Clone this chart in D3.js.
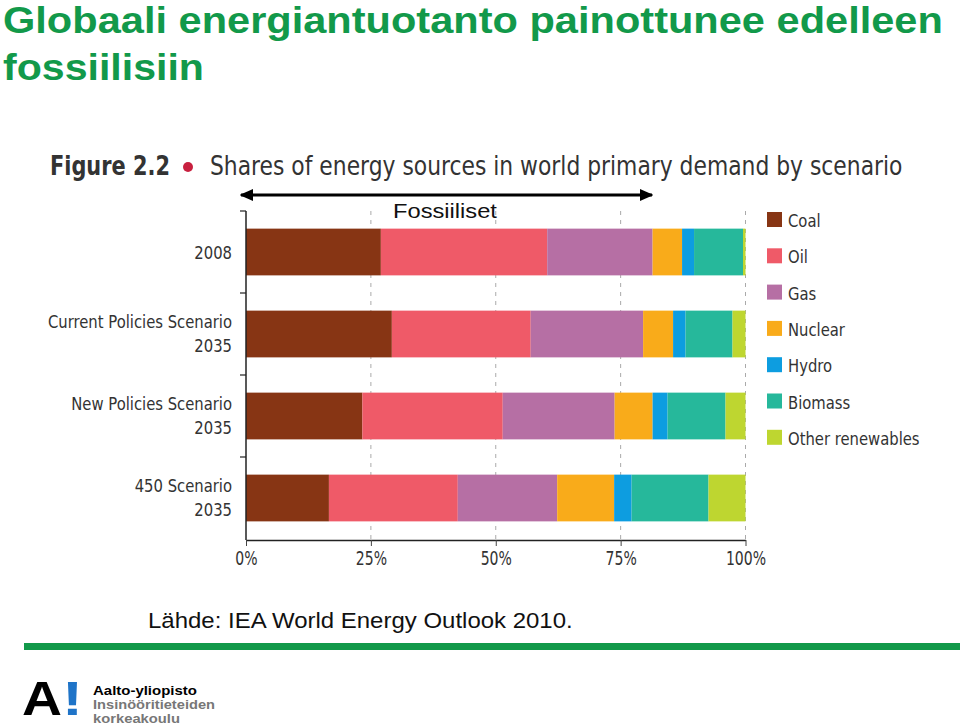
<!DOCTYPE html>
<html>
<head>
<meta charset="utf-8">
<script src="https://cdn.jsdelivr.net/npm/d3@7"></script>
<style>
  html, body { margin: 0; padding: 0; background: #fff; overflow: hidden; }
  svg { display: block; }
  .cond { font-family: 'DejaVu Sans', 'Liberation Sans', sans-serif; }
</style>
</head>
<body>
<svg id="chart" width="960" height="726"></svg>
<script>
// ---- data ----
const categories = ["2008", "Current Policies Scenario|2035", "New Policies Scenario|2035", "450 Scenario|2035"];
const sources = ["Coal", "Oil", "Gas", "Nuclear", "Hydro", "Biomass", "Other renewables"];
const coal    = [27.0, 29.2, 23.3, 16.6];
const oil     = [33.3, 27.8, 28.1, 25.8];
const gas     = [21.1, 22.5, 22.4, 19.9];
const nuclear = [5.9, 6.0, 7.6, 11.4];
const hydro   = [2.4, 2.5, 3.0, 3.5];
const biomass = [9.8, 9.4, 11.6, 15.4];
const otherRenewables = [0.5, 2.6, 4.0, 7.4];
const colors = ["#873514", "#ef5a68", "#b66fa4", "#f9ab1a", "#0d9de0", "#26b89b", "#bed630"];
const xTicks = [0, 25, 50, 75, 100];
const xTickLabels = ["0%", "25%", "50%", "75%", "100%"];

const seriesValues = [coal, oil, gas, nuclear, hydro, biomass, otherRenewables];
const table = categories.map((c, i) => {
  const row = { cat: c };
  sources.forEach((s, j) => row[s] = seriesValues[j][i]);
  return row;
});

const svg = d3.select("#chart");
const green = "#12994a";
const textDark = "#333";
const SQ = 0.80; // horizontal squeeze to mimic condensed face

// condensed text helper
function condText(parent, x, y, str, size, anchor, weight) {
  return parent.append("text").attr("class", "cond")
    .attr("transform", `translate(${x},${y}) scale(${SQ},1)`)
    .attr("text-anchor", anchor || "start")
    .attr("font-size", size).attr("font-weight", weight || "normal")
    .attr("fill", textDark).text(str);
}
// text fitted to a target width via horizontal scale
function fitText(parent, x, y, str, width, attrs) {
  const t = parent.append("text").text(str);
  Object.entries(attrs).forEach(([k, v]) => t.attr(k, v));
  const w = t.node().getComputedTextLength();
  t.attr("transform", `translate(${x},${y}) scale(${width / w},1)`);
  return t;
}

// ---- slide title ----
const titleAttrs = { "font-family": "'Liberation Sans', Arial, sans-serif", "font-weight": "bold", "font-size": 36.5, "fill": green };
fitText(svg, 3, 33, "Globaali energiantuotanto painottunee edelleen", 940, titleAttrs);
fitText(svg, 3, 80, "fossiilisiin", 201, titleAttrs);

// ---- figure header ----
fitText(svg, 50, 175, "Figure 2.2", 120, { "class": "cond", "font-size": 26, "font-weight": "bold", "fill": textDark });
svg.append("circle").attr("cx", 188).attr("cy", 167).attr("r", 5).attr("fill", "#c8203f");
fitText(svg, 210, 175, "Shares of energy sources in world primary demand by scenario", 693,
  { "class": "cond", "font-size": 26, "fill": textDark });

// ---- scales ----
const x = d3.scaleLinear().domain([0, 100]).range([246, 745.5]);
const y = d3.scaleBand().domain(categories).range([211, 539]).paddingInner(0.43).paddingOuter(0.215);

// gridlines
svg.append("g").selectAll("line").data(xTicks.slice(1)).join("line")
  .attr("x1", d => x(d)).attr("x2", d => x(d))
  .attr("y1", 211).attr("y2", 540)
  .attr("stroke", "#aaa").attr("stroke-width", 1).attr("stroke-dasharray", "4,5");

// stacked bars
const stack = d3.stack().keys(sources)(table);
svg.append("g").selectAll("g").data(stack).join("g")
  .attr("fill", (d, i) => colors[i])
  .selectAll("rect").data(d => d).join("rect")
  .attr("x", d => x(d[0]))
  .attr("width", d => x(d[1]) - x(d[0]))
  .attr("y", d => y(d.data.cat))
  .attr("height", y.bandwidth());

// x axis
const xAxis = d3.axisBottom(x).tickValues(xTicks).tickFormat((d, i) => xTickLabels[i]).tickSize(6).tickSizeOuter(0);
const gx = svg.append("g").attr("transform", "translate(0,540)").call(xAxis);
gx.select(".domain").attr("stroke", "#222").attr("stroke-width", 1.5);
gx.selectAll(".tick line").attr("stroke", "#444");
gx.selectAll(".tick text").attr("class", "cond").attr("font-size", 19).attr("fill", textDark)
  .attr("dy", 0).attr("y", 0).attr("transform", `translate(0,25) scale(0.74,1)`);

// y axis line with boundary ticks
svg.append("line").attr("x1", 246).attr("x2", 246).attr("y1", 211).attr("y2", 540).attr("stroke", "#222").attr("stroke-width", 1.5);
const bounds = categories.map(c => y(c) - (y.step() - y.bandwidth()) / 2);
svg.append("g").selectAll("line").data(bounds).join("line")
  .attr("x1", 240).attr("x2", 246).attr("y1", d => d).attr("y2", d => d)
  .attr("stroke", "#222").attr("stroke-width", 1.2);

// category labels
const catG = svg.append("g");
categories.forEach(c => {
  const parts = c.split("|");
  const cy = y(c) + y.bandwidth() / 2;
  if (parts.length === 1) {
    condText(catG, 232, cy + 7, parts[0], 18.5, "end");
  } else {
    condText(catG, 232, cy - 6, parts[0], 18.5, "end");
    condText(catG, 232, cy + 18, parts[1], 18.5, "end");
  }
});

// legend
const leg = svg.append("g").selectAll("g").data(sources).join("g")
  .attr("transform", (d, i) => `translate(767, ${212 + i * 36.3})`);
leg.append("rect").attr("width", 15).attr("height", 15).attr("fill", (d, i) => colors[i]);
leg.each(function(d) { condText(d3.select(this), 21, 15, d, 18.5, "start"); });

// Fossil arrow annotation
const defs = svg.append("defs");
defs.append("marker").attr("id", "ah").attr("viewBox", "0 0 10 10").attr("refX", 9).attr("refY", 5)
  .attr("markerWidth", 4.5).attr("markerHeight", 4).attr("orient", "auto-start-reverse")
  .attr("preserveAspectRatio", "none")
  .append("path").attr("d", "M0,0 L10,5 L0,10 Z").attr("fill", "#000");
svg.append("line").attr("x1", 241).attr("x2", 652).attr("y1", 195).attr("y2", 195)
  .attr("stroke", "#000").attr("stroke-width", 3)
  .attr("marker-start", "url(#ah)").attr("marker-end", "url(#ah)");
fitText(svg, 393, 218, "Fossiiliset", 104,
  { "font-family": "'Liberation Sans', Arial, sans-serif", "font-size": 21, "fill": "#111" });

// source
fitText(svg, 148, 628, "Lähde: IEA World Energy Outlook 2010.", 425,
  { "font-family": "'Liberation Sans', Arial, sans-serif", "font-size": 22, "fill": "#111" });

// green rule
svg.append("rect").attr("x", 24).attr("y", 643).attr("width", 936).attr("height", 7).attr("fill", green);

// logo
const logoBig = { "font-family": "'Liberation Sans', Arial, sans-serif", "font-weight": "bold", "font-size": 48 };
fitText(svg, 22, 715, "A", 40, Object.assign({ fill: "#000" }, logoBig));
fitText(svg, 62, 715, "!", 21, Object.assign({ fill: "#1f74c8" }, logoBig));
const logoAttrs = { "font-family": "'Liberation Sans', Arial, sans-serif", "font-size": 12.5, "font-weight": "bold" };
fitText(svg, 93, 695, "Aalto-yliopisto", 104, Object.assign({ fill: "#000" }, logoAttrs));
fitText(svg, 93, 709, "Insinööritieteiden", 122, Object.assign({ fill: "#777" }, logoAttrs));
fitText(svg, 93, 723, "korkeakoulu", 87, Object.assign({ fill: "#777" }, logoAttrs));
</script>
</body>
</html>
